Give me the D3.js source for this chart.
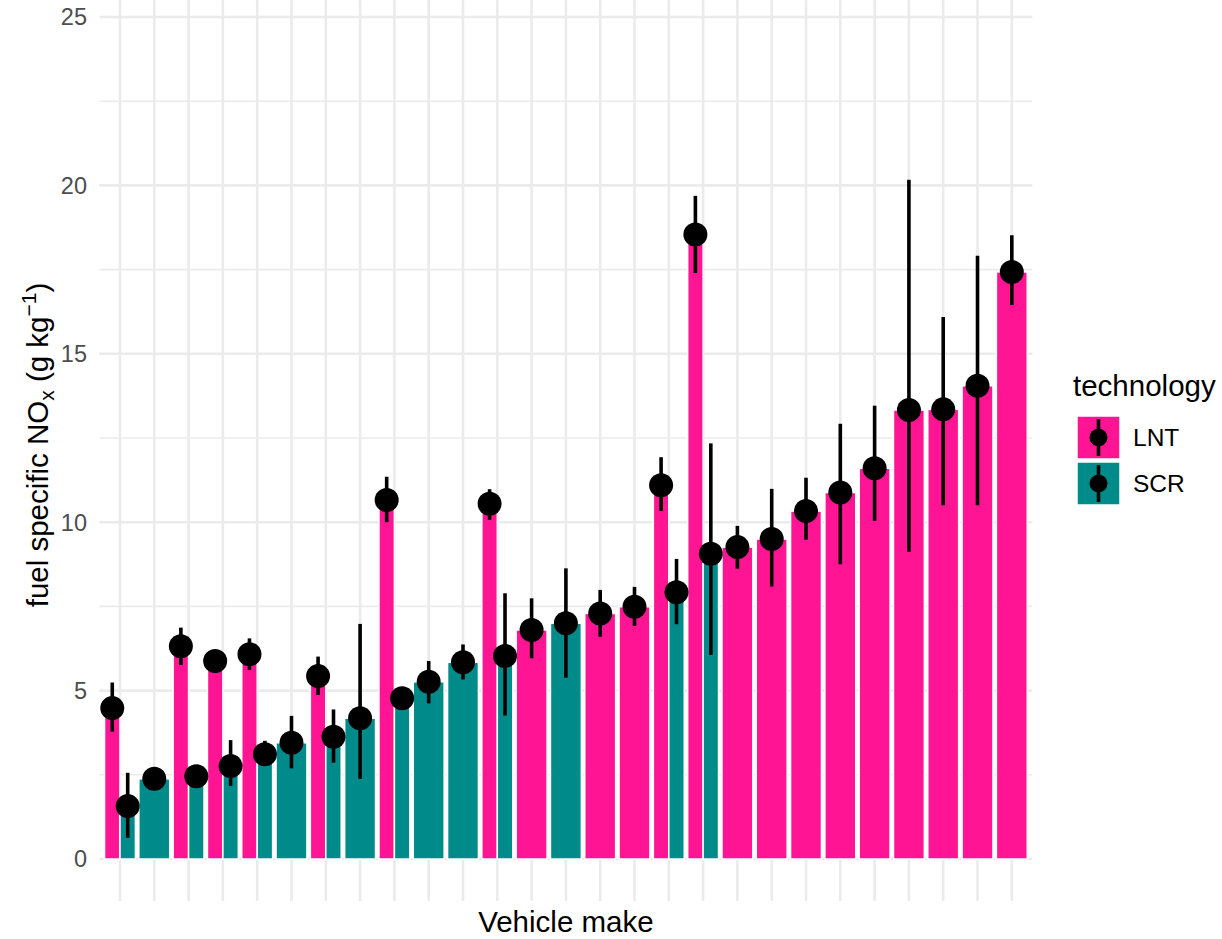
<!DOCTYPE html>
<html lang="en">
<head>
<meta charset="UTF-8">
<title>Fuel specific NOx by vehicle make</title>
<script src="https://d3js.org/d3.v7.min.js"></script>
<style>
  body { margin: 0; background: #fff; font-family: 'Liberation Sans', Arial, sans-serif; }
  svg { display: block; }
  .grid line { stroke: #ebebeb; }
  .tick-label { fill: #4d4d4d; font-size: 23.5px; }
  .title { fill: #000; font-size: 29.5px; }
</style>
</head>
<body>
<div id="chart"></div>
<script>
// vehicle makes (tick labels are hidden in the original, so just ordinal ids)
const makes = [1, 2, 3, 4, 5, 6, 7, 8, 9, 10, 11, 12, 13, 14, 15, 16, 17, 18, 19, 20, 21, 22, 23, 24, 25, 26, 27];
const techs = ["LNT", "SCR"];
const techColors = ["#ff1493", "#008b8b"];

// LNT vehicles
const lntMake = [1, 3, 4, 5, 7, 9, 12, 13, 15, 16, 17, 18, 19, 20, 21, 22, 23, 24, 25, 26, 27];
const lntMean = [4.48, 6.32, 5.88, 6.08, 5.43, 10.66, 10.55, 6.80, 7.29, 7.49, 11.10, 18.54, 9.26, 9.50, 10.33, 10.88, 11.60, 13.33, 13.35, 14.05, 17.43];
const lntLow  = [3.78, 5.76, 5.75, 5.61, 4.87, 10.00, 10.07, 5.96, 6.60, 6.92, 10.33, 17.40, 8.62, 8.09, 9.48, 8.75, 10.04, 9.12, 10.50, 10.50, 16.45];
const lntHigh = [5.24, 6.87, 6.02, 6.55, 6.01, 11.35, 10.98, 7.74, 7.99, 8.08, 11.93, 19.69, 9.89, 10.99, 11.32, 12.92, 13.46, 20.17, 16.09, 17.91, 18.52];

// SCR vehicles
const scrMake = [1, 2, 3, 4, 5, 6, 7, 8, 9, 10, 11, 12, 14, 17, 18];
const scrMean = [1.57, 2.38, 2.46, 2.76, 3.11, 3.45, 3.63, 4.18, 4.77, 5.26, 5.84, 6.03, 7.00, 7.92, 9.06];
const scrLow  = [0.63, 2.25, 2.35, 2.17, 2.76, 2.69, 2.86, 2.38, 4.65, 4.62, 5.33, 4.26, 5.38, 6.97, 6.06];
const scrHigh = [2.56, 2.52, 2.58, 3.53, 3.51, 4.25, 4.44, 6.98, 4.90, 5.88, 6.37, 7.89, 8.63, 8.91, 12.34];

const yTicks = [0, 5, 10, 15, 20, 25];
const yMinor = [2.5, 7.5, 12.5, 17.5, 22.5];

const width = 1222, height = 939;
const panel = { left: 99.4, right: 1032.4, bottom: 901 };

// build rows, dodge within a make when both technologies are present
const rows = [];
lntMake.forEach((m, i) => rows.push({ make: m, tech: "LNT", mean: lntMean[i], lo: lntLow[i], hi: lntHigh[i] }));
scrMake.forEach((m, i) => rows.push({ make: m, tech: "SCR", mean: scrMean[i], lo: scrLow[i], hi: scrHigh[i] }));
const byMake = d3.group(rows, d => d.make);
rows.forEach(d => {
    const n = byMake.get(d.make).length;
    const idx = n === 1 ? 0 : techs.indexOf(d.tech);
    d.w = 0.9 / n;
    d.x0 = d.make - 0.45 + idx * d.w;
});

const x = d3.scaleLinear()
    .domain([makes[0] - 0.6, makes[makes.length - 1] + 0.6])
    .range([panel.left, panel.right]);

const y = d3.scaleLinear()
    .domain([0, 25])
    .range([859, 17]);

const color = d3.scaleOrdinal().domain(techs).range(techColors);

const svg = d3.select("#chart").append("svg")
    .attr("width", width)
    .attr("height", height);

// grid
const grid = svg.append("g").attr("class", "grid");
grid.selectAll(".minor").data(yMinor).join("line")
    .attr("x1", panel.left).attr("x2", panel.right)
    .attr("y1", d => y(d)).attr("y2", d => y(d))
    .attr("stroke-width", 1.6);
grid.selectAll(".major").data(yTicks).join("line")
    .attr("x1", panel.left).attr("x2", panel.right)
    .attr("y1", d => y(d)).attr("y2", d => y(d))
    .attr("stroke-width", 2.6);
grid.selectAll(".vmajor").data(makes).join("line")
    .attr("x1", d => x(d)).attr("x2", d => x(d))
    .attr("y1", 0).attr("y2", panel.bottom)
    .attr("stroke-width", 2.6);

// bars
svg.append("g").selectAll("rect").data(rows).join("rect")
    .attr("x", d => x(d.x0))
    .attr("width", d => x(d.x0 + d.w) - x(d.x0))
    .attr("y", d => y(d.mean))
    .attr("height", d => y(0) - y(d.mean))
    .attr("fill", d => color(d.tech))
    .attr("stroke", "#fff")
    .attr("stroke-width", 1.5);

// point ranges
const pr = svg.append("g").selectAll("g").data(rows).join("g")
    .attr("transform", d => `translate(${x(d.x0 + d.w / 2)},0)`);
pr.append("line")
    .attr("y1", d => y(d.lo)).attr("y2", d => y(d.hi))
    .attr("stroke", "#000").attr("stroke-width", 3.6);
pr.append("circle")
    .attr("cy", d => y(d.mean))
    .attr("r", 12)
    .attr("fill", "#000");

// y axis labels
svg.append("g").selectAll("text").data(yTicks).join("text")
    .attr("class", "tick-label")
    .attr("x", 87)
    .attr("y", d => y(d))
    .attr("dy", "0.36em")
    .attr("text-anchor", "end")
    .text(d => d);

// axis titles
svg.append("text")
    .attr("class", "title")
    .attr("x", (panel.left + panel.right) / 2)
    .attr("y", 932)
    .attr("text-anchor", "middle")
    .text("Vehicle make");

const yt = svg.append("text")
    .attr("class", "title")
    .attr("transform", "translate(48,445) rotate(-90)")
    .attr("text-anchor", "middle");
yt.append("tspan").text("fuel specific NO");
yt.append("tspan").attr("font-size", 21).attr("dy", 6).text("x");
yt.append("tspan").attr("dy", -6).text(" (g kg");
yt.append("tspan").attr("font-size", 21).attr("dy", -12).text("\u22121");
yt.append("tspan").attr("dy", 12).text(")");

// legend
const legend = svg.append("g").attr("transform", "translate(1073,0)");
legend.append("text")
    .attr("class", "title")
    .attr("x", 0).attr("y", 396)
    .text("technology");
const keys = legend.selectAll(".key").data(techs).join("g")
    .attr("transform", (d, i) => `translate(4,${416 + i * 46})`);
keys.append("rect")
    .attr("width", 43).attr("height", 43)
    .attr("fill", d => color(d))
    .attr("stroke", "#fff").attr("stroke-width", 1.5);
keys.append("line")
    .attr("x1", 21.5).attr("x2", 21.5)
    .attr("y1", 3).attr("y2", 40)
    .attr("stroke", "#000").attr("stroke-width", 3.6);
keys.append("circle")
    .attr("cx", 21.5).attr("cy", 21.5)
    .attr("r", 9)
    .attr("fill", "#000");
keys.append("text")
    .attr("class", "tick-label")
    .style("fill", "#000")
    .style("font-size", "24.5px")
    .attr("x", 56).attr("y", 21.5)
    .attr("dy", "0.36em")
    .text(d => d);
</script>
</body>
</html>
